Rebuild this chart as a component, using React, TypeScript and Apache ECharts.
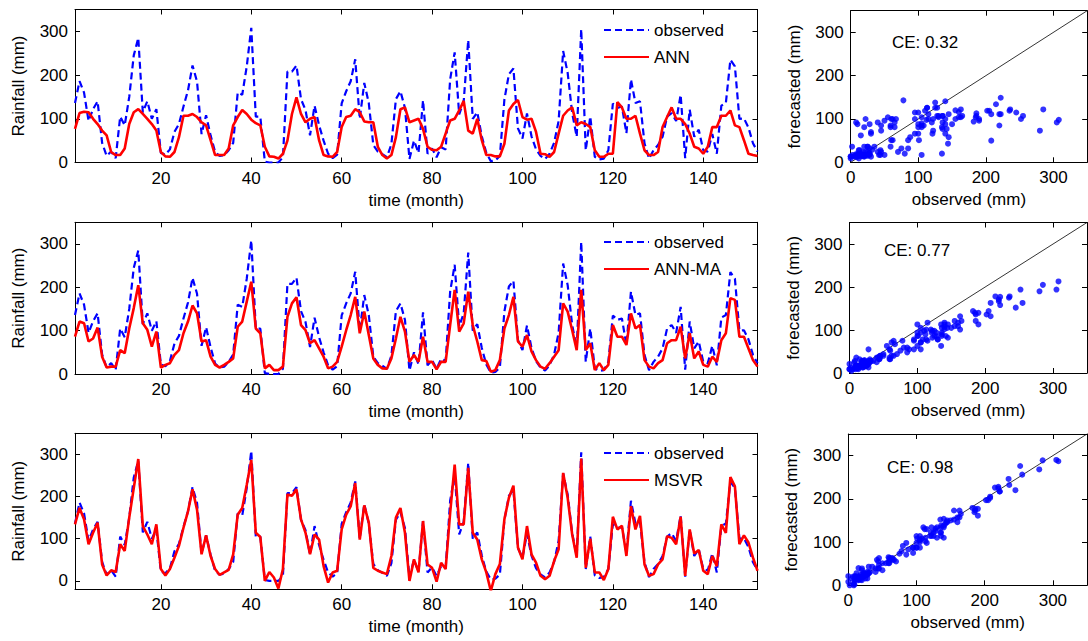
import React, { useEffect, useRef } from "react";
import * as echarts from "echarts";

// ---- data ----
const observed = [
  136, 186, 160, 95, 122, 140, 45, 15, 25, 10,
  105, 85, 150, 245, 285, 115, 140, 100, 122, 22,
  18, 30, 70, 88, 128, 165, 222, 185, 65, 108,
  62, 24, 15, 17, 28, 45, 160, 155, 220, 308,
  105, 105, 2, 0, 0, 0, 12, 208, 208, 222,
  145, 120, 62, 130, 85, 50, 20, 10, 18, 135,
  163, 186, 236, 100, 182, 136, 40, 25, 19, 12,
  42, 145, 163, 125, 8, 50, 22, 142, 20, 32,
  12, 35, 30, 190, 252, 110, 140, 280, 100, 115,
  60, 22, 3, 5, 15, 144, 202, 215, 78, 55,
  112, 60, 30, 15, 8, 20, 45, 95, 255, 205,
  113, 59, 305, 28, 105, 13, 7, 9, 28, 135,
  125, 128, 67, 190, 136, 140, 44, 9, 28, 40,
  59, 105, 113, 95, 155, 10, 121, 59, 75, 28,
  25, 65, 20, 130, 136, 235, 220, 100, 101, 80,
  44, 25,
];

const ann = [
  77, 113, 116, 115, 100, 88, 73, 62, 24, 17,
  17, 32, 88, 115, 122, 111, 100, 88, 73, 24,
  14, 13, 24, 58, 107, 107, 111, 104, 92, 85,
  51, 17, 17, 17, 32, 85, 104, 120, 111, 98,
  90, 85, 36, 14, 13, 9, 20, 50, 111, 149,
  111, 92, 100, 104, 51, 17, 14, 13, 24, 81,
  104, 107, 122, 115, 94, 92, 92, 36, 17, 9,
  17, 58, 122, 126, 92, 96, 100, 77, 36, 29,
  28, 36, 66, 96, 100, 119, 141, 73, 66, 100,
  51, 17, 17, 14, 14, 43, 119, 134, 143, 104,
  98, 100, 70, 20, 19, 13, 24, 66, 107, 119,
  126, 85, 92, 88, 81, 28, 13, 13, 20, 20,
  138, 126, 100, 100, 107, 66, 28, 17, 17, 24,
  81, 104, 126, 100, 100, 88, 66, 36, 32, 20,
  36, 81, 81, 107, 107, 119, 85, 81, 51, 20,
  17, 15,
];

const annMa = [
  86, 121, 117, 75, 82, 107, 40, 15, 17, 17,
  55, 48, 105, 152, 205, 117, 102, 63, 98, 15,
  21, 25, 44, 55, 94, 121, 158, 140, 75, 78,
  40, 21, 15, 21, 28, 36, 109, 121, 167, 213,
  105, 94, 13, 21, 9, 9, 17, 132, 163, 177,
  113, 101, 71, 78, 59, 40, 13, 17, 28, 63,
  101, 136, 178, 94, 144, 90, 36, 21, 13, 12,
  36, 82, 132, 98, 28, 44, 28, 86, 28, 28,
  11, 28, 28, 113, 194, 98, 117, 190, 113, 75,
  32, 30, 5, 9, 32, 105, 136, 178, 75, 63,
  90, 52, 32, 17, 12, 25, 40, 55, 163, 144,
  101, 55, 194, 55, 71, 9, 25, 9, 21, 113,
  86, 86, 67, 140, 105, 113, 32, 17, 13, 25,
  32, 71, 78, 78, 109, 36, 94, 36, 52, 21,
  17, 40, 28, 78, 94, 175, 171, 86, 86, 59,
  32, 17,
];

const msvr = [
  134, 173, 146, 87, 114, 138, 39, 13, 25, 21,
  87, 71, 150, 220, 289, 130, 110, 87, 134, 28,
  13, 28, 55, 83, 126, 165, 217, 169, 63, 108,
  59, 28, 14, 20, 26, 63, 157, 173, 228, 287,
  114, 104, 0, 21, 8, -18, 28, 205, 202, 217,
  146, 114, 63, 110, 98, 35, -4, 20, 24, 122,
  157, 177, 232, 98, 179, 138, 31, 24, 20, 16,
  59, 150, 173, 114, 0, 51, 20, 142, 39, 31,
  -2, 43, 28, 161, 276, 134, 134, 268, 114, 98,
  51, 20, -24, 16, 40, 146, 197, 226, 79, 51,
  130, 63, 43, 12, 4, 12, 47, 75, 256, 197,
  110, 55, 290, 31, 100, 20, 20, 2, 28, 152,
  122, 131, 59, 177, 122, 154, 39, 12, 16, 39,
  51, 106, 102, 87, 152, 12, 122, 65, 73, 24,
  16, 59, 35, 134, 114, 246, 224, 87, 108, 91,
  55, 24,
];

const modelNames = ["ANN", "ANN-MA", "MSVR"];
const ceValues = ["0.32", "0.77", "0.98"];
const timeTicks = [20, 40, 60, 80, 100, 120, 140];
const rainTicks = [0, 100, 200, 300];
const scatterTicks = [0, 100, 200, 300];
const monthRange = [1, 152];
const rainRanges = [
  [0, 350],
  [0, 350],
  [-20, 350],
];
const scatterRange = [0, 350];
const diagonal = [0, 350];

const months = observed.map((_, i) => i + 1);
const models = [ann, annMa, msvr];

// ---- layout ----
const FONT = "'Liberation Sans', Arial, Helvetica, sans-serif";
const FS = 17;
const tsGrids = [
  { left: 75, top: 9.5, width: 682.5, height: 153 },
  { left: 75, top: 222.3, width: 682.5, height: 151.7 },
  { left: 75, top: 433.3, width: 682.5, height: 156 },
];
const scGrids = [
  { left: 850.7, top: 10.7, width: 236.5, height: 151.6 },
  { left: 849.5, top: 222.5, width: 237.5, height: 150.5 },
  { left: 848.3, top: 434, width: 238.7, height: 151.3 },
];
const legendTops = [20, 232, 443];
const cePos = [
  { x: 892, y: 42 },
  { x: 884, y: 250 },
  { x: 887, y: 467 },
];

const axisLineStyle = { show: true, onZero: false, lineStyle: { color: "#000", width: 1 } };
const tickStyle = (vals: number[]) => ({
  show: true,
  inside: true,
  length: 5,
  customValues: vals,
  lineStyle: { color: "#000", width: 1 },
});
const labelStyle = (vals: number[], show = true) => ({
  show,
  customValues: vals,
  margin: 7,
  color: "#000",
  fontSize: FS,
  fontFamily: FONT,
});

function buildOption() {
  const grids: any[] = [];
  const xAxes: any[] = [];
  const yAxes: any[] = [];
  const series: any[] = [];
  const legends: any[] = [];

  for (let p = 0; p < 3; p++) {
    // time-series panel
    const g = grids.length;
    grids.push({ ...tsGrids[p], containLabel: false, outerBoundsMode: "none" });
    const xi = xAxes.length;
    xAxes.push({
      type: "value", gridIndex: g, position: "bottom",
      min: monthRange[0], max: monthRange[1],
      axisLine: axisLineStyle, axisTick: tickStyle(timeTicks),
      axisLabel: labelStyle(timeTicks), splitLine: { show: false },
      name: "time (month)", nameLocation: "middle", nameGap: 29,
      nameTextStyle: { color: "#000", fontSize: FS, fontFamily: FONT },
    });
    xAxes.push({
      type: "value", gridIndex: g, position: "top",
      min: monthRange[0], max: monthRange[1],
      axisLine: axisLineStyle, axisTick: tickStyle(timeTicks),
      axisLabel: labelStyle(timeTicks, false), splitLine: { show: false },
    });
    const yi = yAxes.length;
    yAxes.push({
      type: "value", gridIndex: g, position: "left",
      min: rainRanges[p][0], max: rainRanges[p][1],
      axisLine: axisLineStyle, axisTick: tickStyle(rainTicks),
      axisLabel: labelStyle(rainTicks), splitLine: { show: false },
      name: "Rainfall (mm)", nameLocation: "middle", nameGap: 48,
      nameTextStyle: { color: "#000", fontSize: FS, fontFamily: FONT },
    });
    yAxes.push({
      type: "value", gridIndex: g, position: "right",
      min: rainRanges[p][0], max: rainRanges[p][1],
      axisLine: axisLineStyle, axisTick: tickStyle(rainTicks),
      axisLabel: labelStyle(rainTicks, false), splitLine: { show: false },
    });
    series.push({
      type: "line", name: "observed", xAxisIndex: xi, yAxisIndex: yi,
      data: months.map((m, k) => [m, observed[k]]),
      symbol: "none", showSymbol: false,
      lineStyle: { color: "#0000FF", width: 2.2, type: [7, 4] },
      itemStyle: { color: "#0000FF" },
      emphasis: { disabled: true }, silent: true, z: 2,
    });
    series.push({
      type: "line", name: modelNames[p], xAxisIndex: xi, yAxisIndex: yi,
      data: months.map((m, k) => [m, models[p][k]]),
      symbol: "none", showSymbol: false,
      lineStyle: { color: "#FF0000", width: 2.6, type: "solid" },
      itemStyle: { color: "#FF0000" },
      emphasis: { disabled: true }, silent: true, z: 3,
    });
    legends.push({
      data: ["observed", modelNames[p]],
      orient: "vertical", left: 603, top: legendTops[p],
      itemWidth: 45, itemHeight: 14, itemGap: 7, padding: 0,
      selectedMode: false,
      itemStyle: { opacity: 0, borderWidth: 0 },
      textStyle: { color: "#000", fontSize: FS, fontFamily: FONT, lineHeight: 20 },
    });

    // scatter panel
    const sg = grids.length;
    grids.push({ ...scGrids[p], containLabel: false, outerBoundsMode: "none" });
    const sxi = xAxes.length;
    xAxes.push({
      type: "value", gridIndex: sg, position: "bottom",
      min: scatterRange[0], max: scatterRange[1],
      axisLine: axisLineStyle, axisTick: tickStyle(scatterTicks),
      axisLabel: labelStyle(scatterTicks), splitLine: { show: false },
      name: "observed (mm)", nameLocation: "middle", nameGap: 29,
      nameTextStyle: { color: "#000", fontSize: FS, fontFamily: FONT },
    });
    xAxes.push({
      type: "value", gridIndex: sg, position: "top",
      min: scatterRange[0], max: scatterRange[1],
      axisLine: axisLineStyle, axisTick: tickStyle(scatterTicks),
      axisLabel: labelStyle(scatterTicks, false), splitLine: { show: false },
    });
    const syi = yAxes.length;
    yAxes.push({
      type: "value", gridIndex: sg, position: "left",
      min: scatterRange[0], max: scatterRange[1],
      axisLine: axisLineStyle, axisTick: tickStyle(scatterTicks),
      axisLabel: labelStyle(scatterTicks), splitLine: { show: false },
      name: "forecasted (mm)", nameLocation: "middle", nameGap: 48,
      nameTextStyle: { color: "#000", fontSize: FS, fontFamily: FONT },
    });
    yAxes.push({
      type: "value", gridIndex: sg, position: "right",
      min: scatterRange[0], max: scatterRange[1],
      axisLine: axisLineStyle, axisTick: tickStyle(scatterTicks),
      axisLabel: labelStyle(scatterTicks, false), splitLine: { show: false },
    });
    series.push({
      type: "line", name: "diag-" + p, xAxisIndex: sxi, yAxisIndex: syi,
      data: diagonal.map((v) => [v, v]),
      symbol: "none", lineStyle: { color: "#000", width: 0.8 },
      emphasis: { disabled: true }, silent: true, z: 2,
    });
    series.push({
      type: "scatter", name: "scatter-" + modelNames[p], xAxisIndex: sxi, yAxisIndex: syi,
      data: observed.map((o, k) => [o, models[p][k]]),
      symbol: "circle", symbolSize: 6,
      itemStyle: { color: "#0000FF" },
      emphasis: { disabled: true }, silent: true, z: 3,
    });
  }

  const graphic = ceValues.map((v, i) => ({
    type: "text",
    x: cePos[i].x,
    y: cePos[i].y,
    style: {
      text: "CE: " + v,
      fill: "#000",
      fontSize: FS,
      fontFamily: FONT,
      verticalAlign: "middle",
      align: "left",
    },
  }));

  return {
    animation: false,
    backgroundColor: "#fff",
    grid: grids,
    xAxis: xAxes,
    yAxis: yAxes,
    legend: legends,
    series,
    graphic,
  };
}

export default function App() {
  const ref = useRef<HTMLDivElement>(null);
  useEffect(() => {
    if (!ref.current) return;
    const chart = echarts.init(ref.current, undefined, { renderer: "svg" });
    chart.setOption(buildOption() as any);
    return () => chart.dispose();
  }, []);
  return (
    <div
      ref={ref}
      style={{ position: "fixed", left: 0, top: 0, width: 1088, height: 641, background: "#fff" }}
    />
  );
}
